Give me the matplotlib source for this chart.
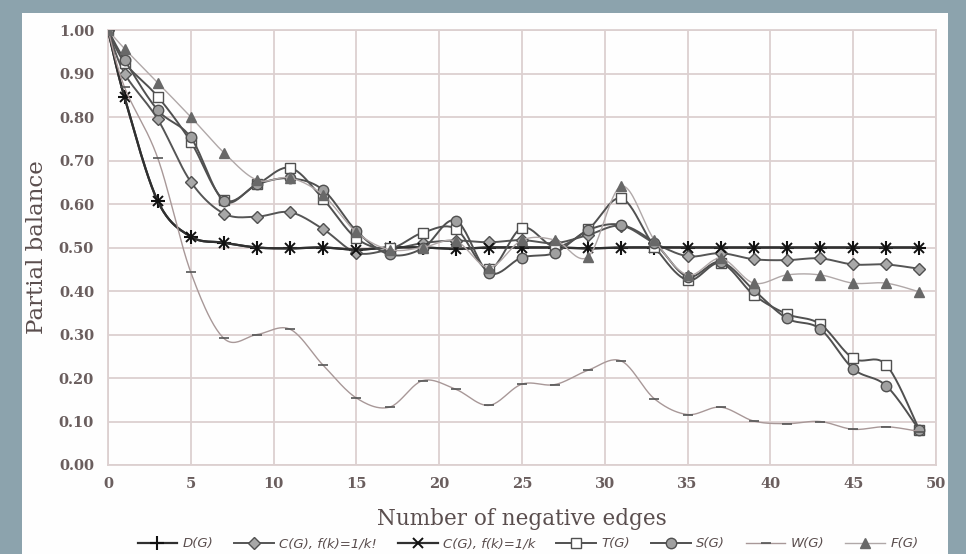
import numpy as np
import matplotlib
matplotlib.use("Agg")
import matplotlib.pyplot as plt
from matplotlib.patches import Rectangle
from matplotlib.lines import Line2D

# ---------------- data ----------------
x = [0, 1, 3, 5, 7, 9, 11, 13, 15, 17, 19, 21, 23, 25, 27, 29, 31, 33, 35, 37, 39, 41, 43, 45, 47, 49]

d_g = [1.0, 0.845, 0.607, 0.525, 0.511, 0.50, 0.498, 0.50, 0.495, 0.50, 0.50, 0.497, 0.50,
       0.50, 0.50, 0.498, 0.50, 0.50, 0.50, 0.50, 0.50, 0.50, 0.50, 0.50, 0.50, 0.50]
c_fact = [1.0, 0.90, 0.795, 0.651, 0.578, 0.571, 0.581, 0.542, 0.488, 0.495, 0.51, 0.516, 0.512,
          0.517, 0.51, 0.529, 0.55, 0.51, 0.48, 0.487, 0.473, 0.471, 0.475, 0.461, 0.461, 0.451]
c_inv = [1.0, 0.845, 0.607, 0.525, 0.511, 0.50, 0.498, 0.50, 0.495, 0.50, 0.50, 0.497, 0.50,
         0.50, 0.50, 0.498, 0.50, 0.50, 0.50, 0.50, 0.50, 0.50, 0.50, 0.50, 0.50, 0.50]
t_g = [1.0, 0.925, 0.847, 0.743, 0.61, 0.645, 0.683, 0.611, 0.521, 0.498, 0.534, 0.543, 0.45,
       0.545, 0.502, 0.542, 0.613, 0.502, 0.425, 0.464, 0.391, 0.347, 0.324, 0.245, 0.23, 0.08]
s_g = [1.0, 0.931, 0.816, 0.753, 0.607, 0.645, 0.659, 0.632, 0.538, 0.484, 0.498, 0.562, 0.442,
       0.477, 0.488, 0.540, 0.552, 0.51, 0.433, 0.467, 0.402, 0.337, 0.313, 0.221, 0.182, 0.08]
w_g = [1.0, 0.868, 0.706, 0.443, 0.291, 0.30, 0.312, 0.229, 0.154, 0.133, 0.194, 0.174, 0.137,
       0.186, 0.185, 0.218, 0.239, 0.152, 0.116, 0.133, 0.101, 0.095, 0.100, 0.082, 0.088, 0.077]
f_g = [1.0, 0.957, 0.879, 0.80, 0.718, 0.655, 0.66, 0.62, 0.535, 0.495, 0.50, 0.515, 0.454,
       0.517, 0.517, 0.479, 0.641, 0.517, 0.437, 0.475, 0.418, 0.437, 0.437, 0.418, 0.418, 0.398]

labels = ["D(G)", "C(G), f(k)=1/k!", "C(G), f(k)=1/k", "T(G)", "S(G)", "W(G)", "F(G)"]
x_ticks = [0, 5, 10, 15, 20, 25, 30, 35, 40, 45, 50]
y_ticks = [0.0, 0.1, 0.2, 0.3, 0.4, 0.5, 0.6, 0.7, 0.8, 0.9, 1.0]


def smooth(xs, ys, n=24):
    """Excel-like smoothed line (Catmull-Rom Bezier through the data points)."""
    p = np.column_stack([xs, ys]).astype(float)
    p_ext = np.vstack([p[0], p, p[-1]])
    out = []
    t = np.linspace(0, 1, n)[:, None]
    for i in range(len(p) - 1):
        p0, p1, p2, p3 = p_ext[i], p_ext[i + 1], p_ext[i + 2], p_ext[i + 3]
        c1 = p1 + (p2 - p0) / 6.0
        c2 = p2 - (p3 - p1) / 6.0
        seg = ((1 - t) ** 3) * p1 + 3 * ((1 - t) ** 2) * t * c1 + 3 * (1 - t) * (t ** 2) * c2 + (t ** 3) * p2
        out.append(seg if i == 0 else seg[1:])
    s = np.vstack(out)
    return s[:, 0], s[:, 1]


W, H = 966, 554
fig = plt.figure(figsize=(W / 100, H / 100), dpi=100)
fig.patch.set_facecolor("#8ca3ad")
fig.patches.append(Rectangle((22 / W, 0), (948 - 22) / W, 1 - 13 / H, transform=fig.transFigure,
                             facecolor="#fefefe", edgecolor="none", zorder=-10))

ax = fig.add_axes([108 / W, 1 - 465 / H, (936 - 108) / W, (465 - 30) / H])
ax.set_facecolor("none")
ax.set_zorder(2)

grid_c = "#dcd0d0"
ax.set_xlim(0, 50)
ax.set_ylim(0, 1.0)
ax.set_xticks(x_ticks)
ax.set_yticks(y_ticks)
ax.set_yticklabels([f"{v:.2f}" for v in y_ticks])
ax.grid(True, color=grid_c, lw=1.3)
ax.set_axisbelow(True)
for sp in ax.spines.values():
    sp.set_color(grid_c)
    sp.set_linewidth(1.3)
ax.tick_params(axis="y", length=0, pad=10, labelsize=10.5, colors="#6a5e5e")
ax.tick_params(axis="x", length=0, pad=9, labelsize=10.5, colors="#6a5e5e")
for lab in ax.get_xticklabels() + ax.get_yticklabels():
    lab.set_fontfamily("DejaVu Serif")
    lab.set_fontweight("bold")

series = [
    # data, line colour, lw, marker, ms, face, edge, mew
    (d_g, "#303030", 1.6, "+", 10, "#111111", "#111111", 1.5),
    (c_fact, "#555555", 1.4, "D", 6.5, "#a8a8a8", "#505050", 1.0),
    (c_inv, "#303030", 1.6, "x", 7.5, "#111111", "#111111", 1.4),
    (t_g, "#505050", 1.4, "s", 7.5, "#ffffff", "#505050", 1.0),
    (s_g, "#505050", 1.4, "o", 7.5, "#a0a0a0", "#505050", 1.0),
    (w_g, "#a89898", 1.0, "_", 7, "#555555", "#555555", 1.2),
    (f_g, "#b0a8a8", 1.0, "^", 7.5, "#686868", "#686868", 1.0),
]

handles = []
for k, (ys, lc, lw, mk, ms, fc, ec, mew) in enumerate(series):
    sx, sy = smooth(x, ys)
    ax.plot(sx, sy, color=lc, lw=lw, zorder=3 + k, solid_capstyle="round")
    ax.plot(x, ys, ls="none", marker=mk, ms=ms, mfc=fc, mec=ec, mew=mew, zorder=3.5 + k)
    handles.append(Line2D([0], [0], color=lc, lw=lw, marker=mk, ms=ms, mfc=fc, mec=ec, mew=mew))

ax.set_xlabel("Number of negative edges", fontfamily="DejaVu Serif", fontsize=15.5,
              color="#5a4e4e", labelpad=12)
ax.set_ylabel("Partial balance", fontfamily="DejaVu Serif", fontsize=16.5,
              color="#5a4e4e", labelpad=8)

leg = fig.legend(handles, labels, loc="center", bbox_to_anchor=(528 / W, 1 - 544 / H), ncol=7,
                 frameon=False, prop={"family": "DejaVu Sans", "style": "italic", "size": 9.5},
                 labelcolor="#5a4e4e", handlelength=3.0, columnspacing=1.6, handletextpad=0.4)
leg.set_zorder(3)

fig.savefig("out.png", dpi=100, facecolor=fig.get_facecolor())
